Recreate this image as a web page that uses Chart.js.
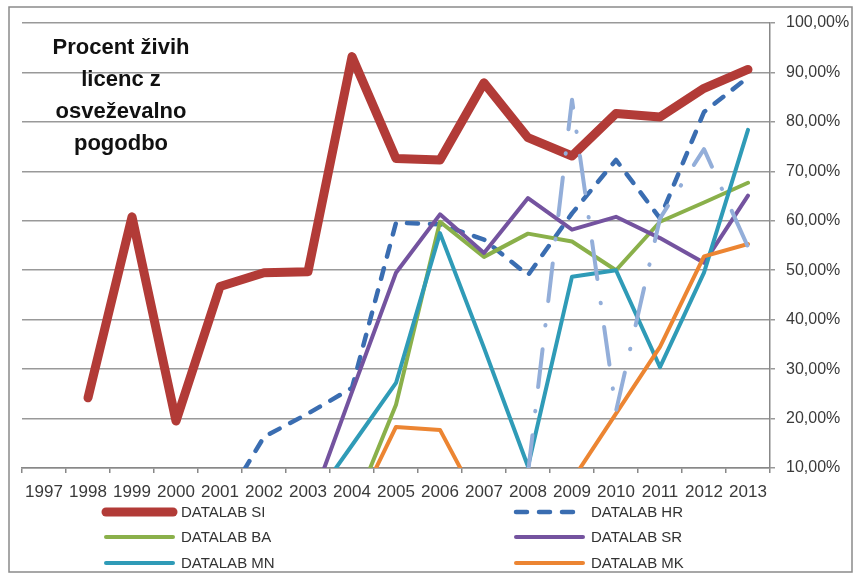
<!DOCTYPE html>
<html>
<head>
<meta charset="utf-8">
<script src="https://cdn.jsdelivr.net/npm/chart.js@4.4.1/dist/chart.umd.min.js"></script>
<style>
  html, body { margin: 0; padding: 0; background: #fff; }
  #wrap { position: relative; width: 855px; height: 574px; }
  #title {
    position: absolute; left: 21px; top: 31px; width: 200px;
    text-align: center; color: #111;
    font: bold 22px/32px "Liberation Sans", Arial, sans-serif;
  }
</style>
</head>
<body>
<div id="wrap">
  <canvas id="lineChart" width="855" height="574"></canvas>
  <div id="title">Procent živih<br>licenc z<br>osveževalno<br>pogodbo</div>
</div>
<script>
// Data
const years = ['1997', '1998', '1999', '2000', '2001', '2002', '2003', '2004', '2005',
  '2006', '2007', '2008', '2009', '2010', '2011', '2012', '2013'];

const seriesNames = ['DATALAB SI', 'DATALAB HR', 'DATALAB BA', 'DATALAB SR', 'DATALAB MN', 'DATALAB MK'];

const dataSI = [null, 24.2, 60.8, 19.5, 46.7, 49.5, 49.7, 93.2, 72.6, 72.3, 87.9, 76.8, 73.1, 81.7, 81, 86.8, 90.6];
const dataHR = [null, null, null, null, 1.5, 16.3, 21, 26.2, 59.6, 59.3, 56.2, 49, 61.5, 72.3, 60.5, 82, 89];
const dataBA = [null, null, null, null, null, null, null, 1, 22.8, 59.8, 52.7, 57.4, 55.8, 50, 59.8, 63.7, 67.7];
const dataSR = [null, null, null, null, null, null, 1, 25.4, 49.5, 61.3, 53.5, 64.6, 58.2, 60.8, 56.5, 51.5, 65.1];
const dataMN = [null, null, null, null, null, null, 2, 14.6, 27.2, 57.5, 34.3, 10.3, 48.7, 50, 30.4, 49.5, 78.4];
const dataMK = [null, null, null, null, null, null, null, 0, 18.3, 17.7, 1, 0, 7.5, 21, 34.5, 52.8, 55.3];
// extra series without a legend entry (light blue dash-dot)
const dataExtra = [null, null, null, null, null, null, null, null, null, null, null, 9, 84.5, 21.5, 60.5, 74.5, 54.7];

const yTicks = [10, 20, 30, 40, 50, 60, 70, 80, 90, 100];

const FONT = '"Liberation Sans", Arial, sans-serif';

function line(label, data, color, width, dash, order) {
  return {
    label: label,
    data: data,
    borderColor: color,
    backgroundColor: color,
    borderWidth: width,
    borderDash: dash || [],
    borderCapStyle: 'round',
    borderJoinStyle: 'round',
    pointRadius: 0,
    tension: 0,
    clip: 0,
    order: order
  };
}

const datasets = [
  line(seriesNames[0], dataSI, '#b23b37', 9, null, 7),
  line(seriesNames[1], dataHR, '#3a6db1', 4.5, [11, 12], 6),
  line(seriesNames[2], dataBA, '#8ab04a', 4, null, 5),
  line(seriesNames[3], dataSR, '#74539f', 4, null, 4),
  line(seriesNames[4], dataMN, '#2f9bb7', 4, null, 3),
  line(seriesNames[5], dataMK, '#ec8532', 4, null, 2),
  line('', dataExtra, '#93aed9', 4, [38, 24, 0.5, 24], 1)
];

// outer frame
const framePlugin = {
  id: 'frame',
  beforeDraw(chart) {
    const ctx = chart.ctx;
    ctx.save();
    ctx.fillStyle = '#fff';
    ctx.fillRect(0, 0, chart.width, chart.height);
    ctx.strokeStyle = '#8a8a8a';
    ctx.lineWidth = 1.5;
    ctx.strokeRect(9, 7, 843, 565);
    ctx.restore();
  }
};

// legend in two columns, like the original
const legendPlugin = {
  id: 'twoColLegend',
  afterDraw(chart) {
    const ctx = chart.ctx;
    const colX = [103, 513];
    const rowY = [512, 537, 563];
    ctx.save();
    ctx.font = '15px ' + FONT;
    ctx.textBaseline = 'middle';
    seriesNames.forEach((name, i) => {
      const ds = chart.data.datasets[i];
      const x = colX[i % 2];
      const y = rowY[Math.floor(i / 2)];
      ctx.beginPath();
      ctx.strokeStyle = ds.borderColor;
      ctx.lineWidth = ds.borderWidth;
      ctx.lineCap = 'round';
      ctx.setLineDash(ds.borderDash);
      ctx.moveTo(x + 3, y);
      ctx.lineTo(x + 70, y);
      ctx.stroke();
      ctx.setLineDash([]);
      ctx.fillStyle = '#333';
      ctx.fillText(name, x + 78, y + 1);
    });
    ctx.restore();
  }
};

new Chart(document.getElementById('lineChart'), {
  type: 'line',
  data: {
    labels: years,
    datasets: datasets
  },
  options: {
    responsive: false,
    animation: false,
    layout: { padding: { left: 22, top: 23, right: 0, bottom: 72 } },
    plugins: {
      legend: { display: false },
      tooltip: { enabled: false }
    },
    scales: {
      x: {
        offset: true,
        grid: { offset: true, drawOnChartArea: false, tickLength: 5, color: '#888', lineWidth: 1.5 },
        border: { color: '#888', width: 1.5 },
        ticks: { color: '#3a3a3a', font: { family: FONT, size: 17 }, padding: 9, maxRotation: 0, autoSkip: false },
        afterFit: s => { s.height = 34; }
      },
      y: {
        position: 'right',
        min: 10,
        max: 100,
        afterBuildTicks: s => { s.ticks = yTicks.map(v => ({ value: v })); },
        grid: { color: '#999', lineWidth: 1.5, tickLength: 5 },
        border: { color: '#888', width: 1.5 },
        ticks: {
          color: '#3a3a3a',
          font: { family: FONT, size: 16 },
          padding: 11,
          callback: v => v.toFixed(2).replace('.', ',') + '%'
        },
        afterFit: s => { s.width = 85; }
      }
    }
  },
  plugins: [framePlugin, legendPlugin]
});
</script>
</body>
</html>
